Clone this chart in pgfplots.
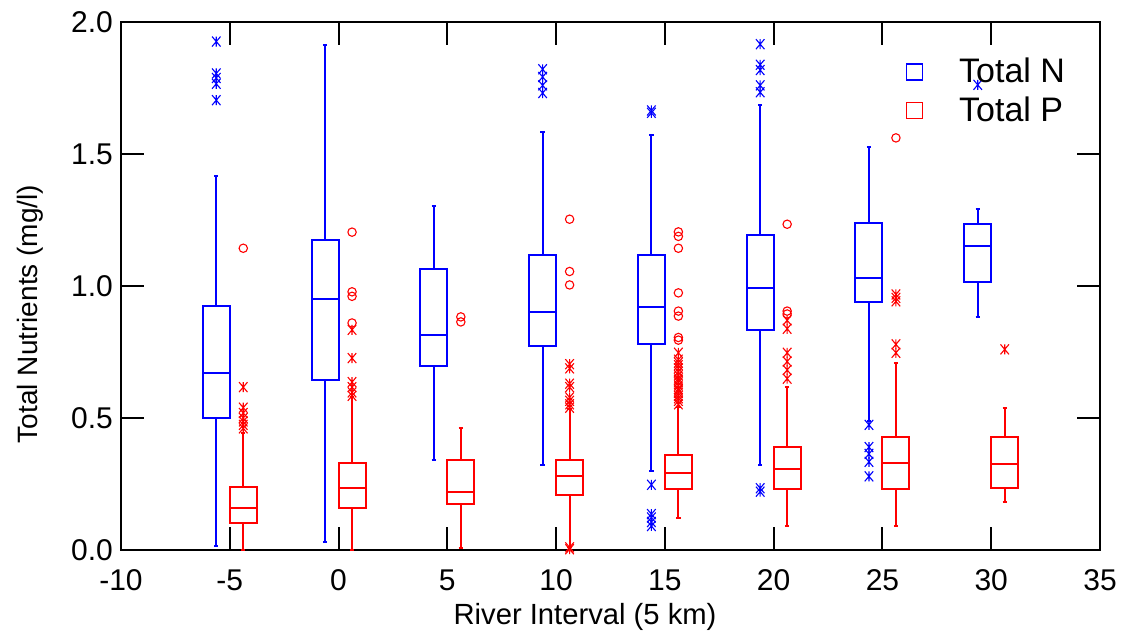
\documentclass[border=0pt]{standalone}
\usepackage{pgfplots}
\pgfplotsset{compat=1.18}
\usepgfplotslibrary{statistics}
\usepackage{fontspec}
\setmainfont{Liberation Sans}

\pgfdeclareplotmark{xast}{%
  \pgfpathmoveto{\pgfqpoint{0pt}{\pgfplotmarksize}}%
  \pgfpathlineto{\pgfqpoint{0pt}{-\pgfplotmarksize}}%
  \pgfpathmoveto{\pgfqpoint{-.85\pgfplotmarksize}{-\pgfplotmarksize}}%
  \pgfpathlineto{\pgfqpoint{.85\pgfplotmarksize}{\pgfplotmarksize}}%
  \pgfpathmoveto{\pgfqpoint{-.85\pgfplotmarksize}{\pgfplotmarksize}}%
  \pgfpathlineto{\pgfqpoint{.85\pgfplotmarksize}{-\pgfplotmarksize}}%
  \pgfusepathqstroke}

\pgfplotsset{
  bxN/.style={blue, solid, line width=1pt, mark=none},
  bxP/.style={red, solid, line width=1pt, mark=none},
  astN/.style={only marks, blue, mark=xast, mark size=2.5pt, line width=0.55pt, forget plot},
  astP/.style={only marks, red, mark=xast, mark size=2.5pt, line width=0.55pt, forget plot},
  cirP/.style={only marks, red, mark=o, mark size=2.1pt, line width=0.55pt, forget plot},
}
\newcommand{\bx}[7]{%
  \addplot[#1, forget plot, boxplot prepared={draw direction=y, draw position=#2, lower whisker=#3, lower quartile=#4, median=#5, upper quartile=#6, upper whisker=#7, box extend=1.24, whisker extend=0.2}] coordinates {};}

\begin{document}
\begin{tikzpicture}
\begin{axis}[
  name=ax,
  scale only axis,
  width=489.5pt, height=264pt,
  xmin=-10, xmax=35, ymin=0, ymax=2,
  xtick={-10,-5,0,5,10,15,20,25,30,35},
  ytick={0,0.5,1,1.5,2},
  clip=false,
  boxplot/draw direction=y,
  tick align=inside,
  major tick length=11.5pt,
  tick style={black, line width=1pt},
  axis line style={black, line width=1.25pt},
  font=\fontsize{15}{18}\selectfont,
  /pgf/number format/assume math mode=true,
  yticklabel style={/pgf/number format/fixed, /pgf/number format/fixed zerofill, /pgf/number format/precision=1, xshift=-0.5pt},
  xticklabel style={anchor=base, yshift=-20pt},
  xlabel={River Interval (5 km)},
  ylabel={Total Nutrients (mg/l)},
  xlabel style={at={(axis description cs:0.474,-0.142)}, anchor=base, font=\fontsize{14.6}{16}\selectfont},
  ylabel style={at={(axis description cs:-0.093,0.447)}, anchor=center, font=\fontsize{14}{16}\selectfont},
  legend style={draw=none, fill=none, at={(rel axis cs:0.801,0.94)}, anchor=north west, inner sep=0pt, column sep=16pt, row sep=1.5pt, font=\fontsize{17}{20}\selectfont, legend cell align=left},
]
\addlegendimage{legend image code/.code={\draw[blue, line width=0.8pt] (0pt,-4pt) rectangle (8pt,4pt);}}
\addlegendentry{Total N}
\addlegendimage{legend image code/.code={\draw[red, line width=0.8pt] (0pt,-4pt) rectangle (8pt,4pt);}}
\addlegendentry{Total P}

% Total N boxes
\bx{bxN}{-5.62}{0.017}{0.500}{0.669}{0.923}{1.416}
\bx{bxN}{-0.62}{0.032}{0.643}{0.951}{1.173}{1.913}
\bx{bxN}{4.38}{0.342}{0.697}{0.813}{1.064}{1.303}
\bx{bxN}{9.38}{0.321}{0.773}{0.900}{1.119}{1.584}
\bx{bxN}{14.38}{0.301}{0.779}{0.921}{1.117}{1.571}
\bx{bxN}{19.38}{0.321}{0.834}{0.992}{1.192}{1.684}
\bx{bxN}{24.38}{0.487}{0.938}{1.032}{1.238}{1.526}
\bx{bxN}{29.38}{0.883}{1.017}{1.153}{1.234}{1.290}

% Total P boxes
\bx{bxP}{-4.38}{0.000}{0.101}{0.158}{0.240}{0.444}
\bx{bxP}{0.62}{0.000}{0.158}{0.236}{0.329}{0.578}
\bx{bxP}{5.62}{0.009}{0.175}{0.219}{0.342}{0.461}
\bx{bxP}{10.62}{0.013}{0.210}{0.282}{0.340}{0.535}
\bx{bxP}{15.62}{0.123}{0.231}{0.292}{0.361}{0.540}
\bx{bxP}{20.62}{0.091}{0.231}{0.305}{0.390}{0.617}
\bx{bxP}{25.62}{0.091}{0.231}{0.331}{0.429}{0.708}
\bx{bxP}{30.62}{0.182}{0.236}{0.325}{0.429}{0.539}

% Total N outliers
\addplot[astN] coordinates {
(-5.62,1.926) (-5.62,1.805) (-5.62,1.788) (-5.62,1.766) (-5.62,1.704)
(9.38,1.821) (9.38,1.792) (9.38,1.760) (9.38,1.731)
(14.38,1.665) (14.38,1.656) (14.38,0.247) (14.38,0.136) (14.38,0.123) (14.38,0.106) (14.38,0.091)
(19.38,1.916) (19.38,1.838) (19.38,1.818) (19.38,1.760) (19.38,1.734) (19.38,0.234) (19.38,0.221)
(24.38,0.474) (24.38,0.390) (24.38,0.364) (24.38,0.334) (24.38,0.279)
(29.38,1.762)
};

% Total P outliers (asterisks)
\addplot[astP] coordinates {
(-4.38,0.617) (-4.38,0.539) (-4.38,0.519) (-4.38,0.500) (-4.38,0.487) (-4.38,0.474) (-4.38,0.461)
(0.62,0.834) (0.62,0.727) (0.62,0.636) (0.62,0.617) (0.62,0.597) (0.62,0.584)
(10.62,0.704) (10.62,0.688) (10.62,0.630) (10.62,0.617) (10.62,0.578) (10.62,0.565) (10.62,0.552) (10.62,0.539) (10.62,0.010) (10.62,0.003)
(15.62,0.747) (15.62,0.721) (15.62,0.710) (15.62,0.700) (15.62,0.688) (15.62,0.675) (15.62,0.662) (15.62,0.650) (15.62,0.643) (15.62,0.635) (15.62,0.623) (15.62,0.610) (15.62,0.604) (15.62,0.595) (15.62,0.584) (15.62,0.575) (15.62,0.565) (15.62,0.552)
(20.62,0.870) (20.62,0.838) (20.62,0.747) (20.62,0.714) (20.62,0.682) (20.62,0.649)
(25.62,0.968) (25.62,0.955) (25.62,0.942) (25.62,0.779) (25.62,0.747)
(30.62,0.760)
};

% Total P outliers (circles)
\addplot[cirP] coordinates {
(-4.38,1.143)
(0.62,1.204) (0.62,0.978) (0.62,0.961) (0.62,0.860)
(5.62,0.883) (5.62,0.864)
(10.62,1.253) (10.62,1.055) (10.62,1.004)
(15.62,1.205) (15.62,1.188) (15.62,1.143) (15.62,0.974) (15.62,0.905) (15.62,0.886) (15.62,0.805) (15.62,0.795)
(20.62,1.234) (20.62,0.905) (20.62,0.894)
(25.62,1.561)
};
\end{axis}
\pgfresetboundingbox
\path[use as bounding box] ([xshift=-60.5pt,yshift=-44pt]ax.south west) rectangle ([xshift=10.5pt,yshift=11pt]ax.north east);
\end{tikzpicture}
\end{document}
